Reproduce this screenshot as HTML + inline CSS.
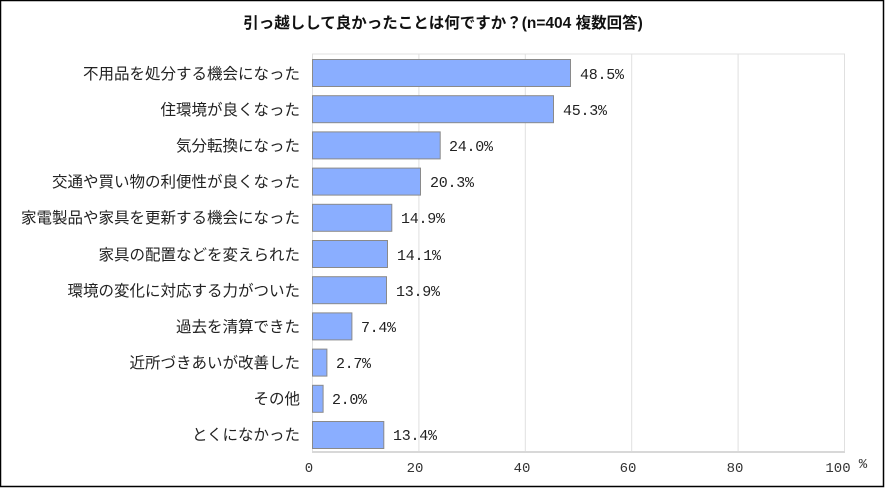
<!DOCTYPE html>
<html><head><meta charset="utf-8"><style>
body{margin:0;background:#fff;}
svg{display:block;font-family:"Liberation Sans","Noto Sans CJK JP",sans-serif;}
</style></head><body>
<svg width="885" height="488" viewBox="0 0 885 488">
<rect x="0.5" y="0.5" width="883" height="486" fill="#fff" stroke="#000" stroke-width="1.5"/>
<text x="443" y="28" text-anchor="middle" font-size="15.5" font-weight="bold" fill="#111">引っ越しして良かったことは何ですか？(n=404 複数回答)</text>
<g stroke="#e0e0e0" stroke-width="1">
<line x1="312.5" y1="54" x2="312.5" y2="452"/>
<line x1="418.9" y1="54" x2="418.9" y2="452"/>
<line x1="525.3" y1="54" x2="525.3" y2="452"/>
<line x1="631.7" y1="54" x2="631.7" y2="452"/>
<line x1="738.1" y1="54" x2="738.1" y2="452"/>
<line x1="844.5" y1="54" x2="844.5" y2="452"/>
<line x1="312" y1="54" x2="845" y2="54"/>
<line x1="312" y1="452" x2="845" y2="452" stroke="#d8d8d8" stroke-width="2"/>
</g>
<g fill="#8aaeff" stroke="#8a8a8a" stroke-width="1">
<rect x="312.5" y="59.5" width="258" height="27"/>
<rect x="312.5" y="95.7" width="241" height="27"/>
<rect x="312.5" y="131.9" width="127.7" height="27"/>
<rect x="312.5" y="168.1" width="108" height="27"/>
<rect x="312.5" y="204.3" width="79.3" height="27"/>
<rect x="312.5" y="240.5" width="75" height="27"/>
<rect x="312.5" y="276.7" width="74" height="27"/>
<rect x="312.5" y="312.9" width="39.4" height="27"/>
<rect x="312.5" y="349.1" width="14.4" height="27"/>
<rect x="312.5" y="385.3" width="10.6" height="27"/>
<rect x="312.5" y="421.5" width="71.3" height="27"/>
</g>
<g font-size="15" fill="#222" font-family="'Liberation Mono',monospace" transform="scale(1,1)">
<text x="580" y="79" textLength="44">48.5%</text>
<text x="563" y="115" textLength="44">45.3%</text>
<text x="449" y="151" textLength="44">24.0%</text>
<text x="430" y="187" textLength="44">20.3%</text>
<text x="401" y="223" textLength="44">14.9%</text>
<text x="397" y="260" textLength="44">14.1%</text>
<text x="396" y="296" textLength="44">13.9%</text>
<text x="361" y="332" textLength="35">7.4%</text>
<text x="336" y="368" textLength="35">2.7%</text>
<text x="332" y="404" textLength="35">2.0%</text>
<text x="393" y="440" textLength="44">13.4%</text>
</g>
<g font-size="15.5" fill="#222" text-anchor="end">
<text x="300" y="79">不用品を処分する機会になった</text>
<text x="300" y="115">住環境が良くなった</text>
<text x="300" y="151">気分転換になった</text>
<text x="300" y="187">交通や買い物の利便性が良くなった</text>
<text x="300" y="223">家電製品や家具を更新する機会になった</text>
<text x="300" y="260">家具の配置などを変えられた</text>
<text x="300" y="296">環境の変化に対応する力がついた</text>
<text x="300" y="332">過去を清算できた</text>
<text x="300" y="368">近所づきあいが改善した</text>
<text x="300" y="404">その他</text>
<text x="300" y="440">とくになかった</text>
</g>
<g font-size="14" fill="#333" text-anchor="middle" font-family="'Liberation Mono',monospace">
<text x="309" y="472">0</text>
<text x="415" y="472">20</text>
<text x="522" y="472">40</text>
<text x="628" y="472">60</text>
<text x="735" y="472">80</text>
<text x="838" y="472">100</text>
<text x="863" y="468">%</text>
</g>
</svg>
</body></html>
